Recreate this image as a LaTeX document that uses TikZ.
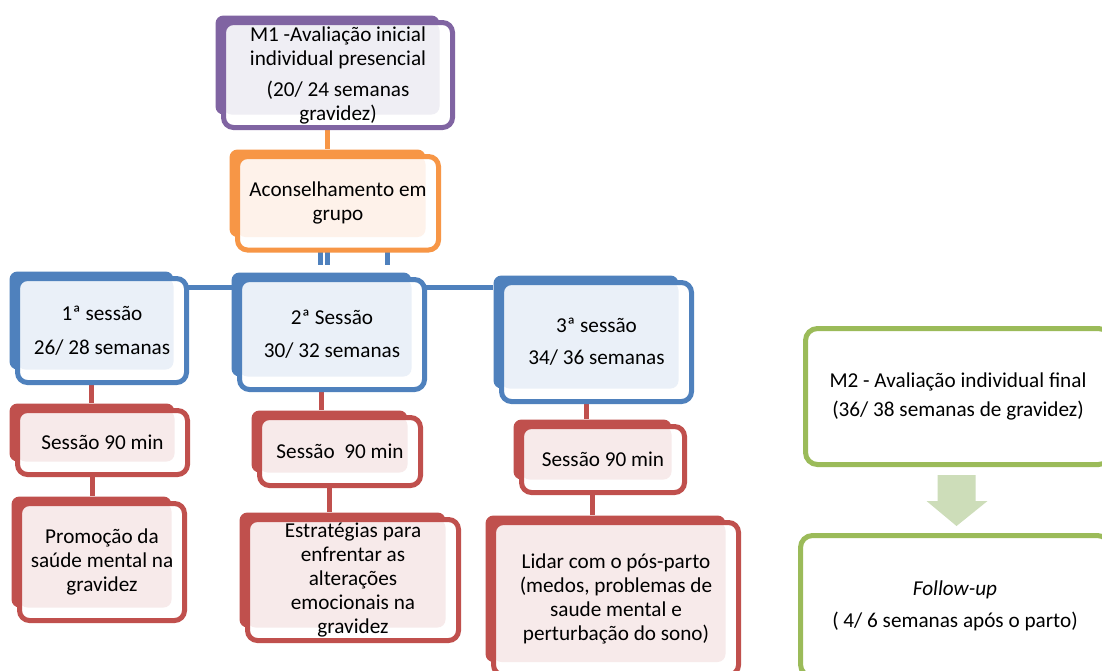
\documentclass[tikz,border=0pt]{standalone}
\usepackage{fontspec}
\setmainfont{Carlito}
\usetikzlibrary{fit,calc}
\pgfdeclarelayer{lines}
\pgfdeclarelayer{backs}
\pgfsetlayers{lines,backs,main}
\definecolor{purpleline}{HTML}{8064A2}
\definecolor{purpletint}{HTML}{EFEEF4}
\definecolor{orangeline}{HTML}{F79646}
\definecolor{orangetint}{HTML}{FEF2EA}
\definecolor{blueline}{HTML}{4F81BD}
\definecolor{bluetint}{HTML}{EAF0F8}
\definecolor{redline}{HTML}{C0504D}
\definecolor{redtint}{HTML}{F7EAEA}
\definecolor{greenline}{HTML}{9BBB59}
\definecolor{greenarrow}{HTML}{CDDDB9}
\begin{document}
\begin{tikzpicture}[x=1pt, y=-1pt,
  font=\fontsize{21.2pt}{24pt}\selectfont,
  frontbox/.style 2 args = {draw=#1, fill=white, line width=5pt, rounded corners=10pt,
    inner sep=0pt, outer sep=0pt, align=center,
    path picture={\fill[#2, rounded corners=8pt] (path picture bounding box.north west)
      rectangle ([shift={(-13pt,13pt)}]path picture bounding box.south east);}},
  backof/.style 2 args = {fill=#2, rounded corners=8pt, inner sep=0pt,
    fit={([shift={(-8pt,7pt)}]#1.north west) ([shift={(-13pt,13pt)}]#1.south east)}},
  greenbox/.style = {draw=greenline, fill=white, line width=5pt, rounded corners=12pt,
    inner sep=0pt, outer sep=0pt, align=center},
  joint/.style = {draw=#1, line width=5pt}]

    \useasboundingbox (0,0) rectangle (1102,670);

    % M1
    \node[frontbox={purpleline}{purpletint}, minimum width=229pt, minimum height=105pt] (m1) at (338,75)
        {M1 -Avaliação inicial\\individual presencial\\[7pt](20/ 24 semanas\\gravidez)};

    % Aconselhamento
    \node[frontbox={orangeline}{orangetint}, minimum width=201pt, minimum height=93.5pt] (aco) at (338,203.25)
        {Aconselhamento em\\grupo};

    % Sessions
    \node[frontbox={blueline}{bluetint}, minimum width=169pt, minimum height=104pt] (s1) at (102,330.5)
        {1ª sessão\\[10pt]26/ 28 semanas};
    \node[frontbox={blueline}{bluetint}, minimum width=185pt, minimum height=110pt] (s2) at (332,334.5)
        {2ª Sessão\\[9pt]30/ 32 semanas};
    \node[frontbox={blueline}{bluetint}, minimum width=190pt, minimum height=119pt] (s3) at (596.5,342)
        {3ª sessão\\[8pt]34/ 36 semanas};

    % Duration
    \node[frontbox={redline}{redtint}, minimum width=170pt, minimum height=64pt] (d1) at (102.5,442.5)
        {Sessão 90 min};
    \node[frontbox={redline}{redtint}, minimum width=161pt, minimum height=68pt] (d2) at (340,451.5)
        {Sessão~~90 min};
    \node[frontbox={redline}{redtint}, minimum width=163pt, minimum height=66pt] (d3) at (603,459.5)
        {Sessão 90 min};

    % Topics
    \node[frontbox={redline}{redtint}, minimum width=165pt, minimum height=117pt] (t1) at (102,562)
        {Promoção da\\saúde mental na\\gravidez};
    \node[frontbox={redline}{redtint}, minimum width=211pt, minimum height=121pt] (t2) at (353,580)
        {Estratégias para\\enfrentar as\\alterações\\emocionais na\\gravidez};
    \node[frontbox={redline}{redtint}, minimum width=245pt, minimum height=152.5pt] (t3) at (616,598.75)
        {Lidar com o pós-parto\\(medos, problemas de\\saude mental e\\perturbação do sono)};

    % M2 and follow-up
    \node[greenbox, minimum width=305pt, minimum height=136pt] (m2) at (958,396.5)
        {M2 - Avaliação individual final\\[5pt](36/ 38 semanas de gravidez)};
    \node[greenbox, minimum width=309pt, minimum height=141pt] (fu) at (955,606)
        {\textit{Follow-up}\\[8pt]( 4/ 6 semanas após o parto)};

    % Arrow
    \coordinate (seta) at ($(m2.south)!0.5!(fu.north)$);
    \fill[greenarrow] ([shift={(-19pt,25pt)}]seta) -- ++(38,0) -- ++(0,26) -- ++(12,0)
        -- ++(-31,25) -- ++(-30,-25) -- ++(11,0) -- cycle;

    % Back shapes
    \begin{pgfonlayer}{backs}
        \node[backof={m1}{purpleline}] (bm1) {};
        \node[backof={aco}{orangeline}] (baco) {};
        \foreach \n in {s1,s2,s3}
            \node[backof={\n}{blueline}] (b\n) {};
        \foreach \n in {d1,d2,d3,t1,t2,t3}
            \node[backof={\n}{redline}] (b\n) {};
    \end{pgfonlayer}

    % Connectors
    \begin{pgfonlayer}{lines}
        \fill[white] (0,0) rectangle (1102,670);
        \draw[joint=orangeline] (bm1.south) -- (bm1.south |- baco.north);
        \foreach \dx in {-7,0,60}
            \draw[joint=blueline, shorten >=7pt] ([xshift=\dx pt]baco.south) -- ([xshift=\dx pt]baco.south |- bs2.north);
        \draw[joint=blueline] ([yshift=-16pt]bs1.north east) -- ([yshift=-16pt]bs1.north east -| bs3.west);
        \foreach \a/\b in {s1/d1, d1/t1, s2/d2, d2/t2, s3/d3, d3/t3}
            \draw[joint=redline] (b\a.south) -- (b\a.south |- b\b.north);
    \end{pgfonlayer}
\end{tikzpicture}
\end{document}
